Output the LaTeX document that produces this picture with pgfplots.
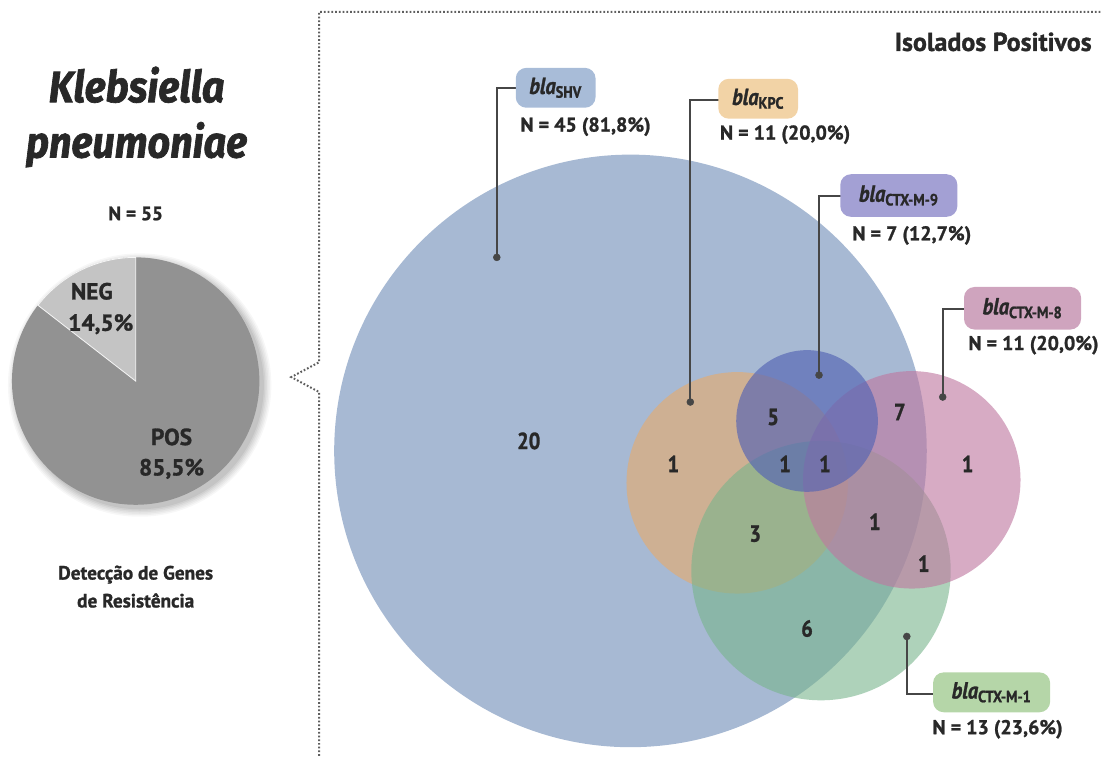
\documentclass[border=0pt]{standalone}
\usepackage{pgfplots}
\pgfplotsset{compat=1.18}
\usepackage{pgfplotstable}
\usepackage{fontspec}
\setmainfont{PT Sans}[BoldFeatures={FakeBold=1.2}]
\newfontfamily\condfont{PT Sans}[FakeStretch=0.88, BoldFeatures={FakeBold=1.2}, BoldItalicFeatures={FakeBold=1.2}]
\newfontfamily\titlefont{Fira Sans}[FakeStretch=0.9, BoldItalicFeatures={FakeBold=1.5}]

\definecolor{cshv}{RGB}{167,185,211}
\definecolor{ckpc}{RGB}{232,170,105}
\definecolor{cnine}{RGB}{85,100,180}
\definecolor{ceight}{RGB}{190,120,160}
\definecolor{cone}{RGB}{120,180,140}
\definecolor{bshv}{RGB}{168,188,216}
\definecolor{bkpc}{RGB}{242,211,166}
\definecolor{bnine}{RGB}{163,160,212}
\definecolor{beight}{RGB}{207,164,190}
\definecolor{bone}{RGB}{181,214,168}
\definecolor{txtc}{RGB}{40,40,40}
\definecolor{lnc}{RGB}{70,70,70}
\definecolor{piepos}{RGB}{146,146,146}
\definecolor{pieneg}{RGB}{196,196,196}
\definecolor{frmc}{RGB}{95,95,95}

% Venn region counts (pixel positions)
\pgfplotstableread{
x   y   lab
530 442 20
675 465 1
775 418 5
902 413 7
970 465 1
787 465 1
827 465 1
757 535 3
877 523 1
926 565 1
809 630 6
}\regions

% circles: centre x, centre y, radius (pixels)
% SHV 632 452 297 ; KPC 739 484 111 ; CTX-M-9 809 422 71 ; CTX-M-8 914 481 109 ; CTX-M-1 823 572 130
% pie: POS 85.5 %, NEG 14.5 %  (N = 55)

\begin{document}
\begin{tikzpicture}
\begin{axis}[x=0.75pt, y=0.75pt, y dir=reverse,
  xmin=0, xmax=1103, ymin=0, ymax=758,
  hide axis, clip=false, scale only axis]

\path (axis cs:0,0) rectangle (axis cs:1103,758);

% ---------- pie ----------
\fill[black, opacity=0.03] (axis cs:140,386) circle[radius={132*0.75pt}];
\fill[black, opacity=0.035] (axis cs:140,386) circle[radius={130.5*0.75pt}];
\fill[black, opacity=0.04] (axis cs:140,386) circle[radius={129*0.75pt}];
\fill[black, opacity=0.045] (axis cs:140,386) circle[radius={127.5*0.75pt}];
\fill[black, opacity=0.05] (axis cs:140,386) circle[radius={126*0.75pt}];
\fill[black, opacity=0.06] (axis cs:140,386) circle[radius={124.5*0.75pt}];
\fill[piepos] (axis cs:136,382) circle[radius=93pt];
\fill[pieneg, draw=white!85!pieneg, line width=0.6pt] (axis cs:136,382) -- (axis cs:136,258) arc[start angle=90, end angle=142.2, radius=93pt] -- cycle;

\node[text=txtc, font=\titlefont\bfseries\itshape\fontsize{33}{36}\selectfont] at (axis cs:137,85) {Klebsiella};
\node[text=txtc, font=\titlefont\bfseries\itshape\fontsize{33}{36}\selectfont] at (axis cs:137,145) {pneumoniae};
\node[text=txtc, font=\bfseries\fontsize{14.5}{16}\selectfont] at (axis cs:136,214) {N = 55};
\node[text=txtc, font=\bfseries\fontsize{17.5}{20}\selectfont] at (axis cs:92,292) {NEG};
\node[text=txtc, font=\bfseries\fontsize{17.5}{20}\selectfont] at (axis cs:101,325) {14,5\%};
\node[text=txtc, font=\bfseries\fontsize{17.5}{20}\selectfont] at (axis cs:172,438) {POS};
\node[text=txtc, font=\bfseries\fontsize{17.5}{20}\selectfont] at (axis cs:172,470) {85,5\%};
\node[text=txtc, font=\bfseries\fontsize{14.5}{16}\selectfont] at (axis cs:136,576) {Detecção de Genes};
\node[text=txtc, font=\bfseries\fontsize{14.5}{16}\selectfont] at (axis cs:136,602) {de Resistência};

% ---------- dotted frame ----------
\draw[frmc, line width=1.5pt, dash pattern=on 1.3pt off 1.5pt]
  (axis cs:1103,12) -- (axis cs:320,12) -- (axis cs:320,363) -- (axis cs:292,378) -- (axis cs:320,393) -- (axis cs:320,758);

% ---------- venn ----------
\fill[cshv] (axis cs:632,452) circle[radius={297*0.75pt}];
\fill[ckpc, fill opacity=0.6] (axis cs:739,484) circle[radius={111*0.75pt}];
\fill[cone, fill opacity=0.6] (axis cs:823,572) circle[radius={130*0.75pt}];
\fill[ceight, fill opacity=0.62] (axis cs:914,481) circle[radius={109*0.75pt}];
\fill[cnine, fill opacity=0.66] (axis cs:809,422) circle[radius={71*0.75pt}];

\addplot[only marks, mark=none, point meta=explicit symbolic,
  nodes near coords, every node near coord/.append style={anchor=center, text=txtc, font=\condfont\bfseries\fontsize{17.5}{19}\selectfont}]
  table[x=x, y=y, meta=lab] {\regions};

% leader lines
\addplot[lnc, line width=1.5pt, mark=none] coordinates {(498,258) (498,88) (518,88)};
\addplot[lnc, line width=1.5pt, mark=none] coordinates {(692,403) (692,100) (721,100)};
\addplot[lnc, line width=1.5pt, mark=none] coordinates {(821,376) (821,196) (844,196)};
\addplot[lnc, line width=1.5pt, mark=none] coordinates {(945,398) (945,310) (968,310)};
\addplot[lnc, line width=1.5pt, mark=none] coordinates {(909,638) (909,696) (935,696)};
\addplot[only marks, mark=*, mark size=2.6pt, lnc] coordinates {(498,258) (692,403) (821,376) (945,398) (909,638)};

% label boxes
\tikzset{gbox/.style={rounded corners=8pt, inner sep=0pt, text=txtc, font=\condfont\bfseries\itshape\fontsize{17.5}{19}\selectfont}}
\node[gbox, fill=bshv, minimum width=60pt, minimum height=30pt] at (axis cs:557,88) {bla\textsubscript{\upshape SHV}};
\node[gbox, fill=bkpc, minimum width=60pt, minimum height=30pt] at (axis cs:760,99) {bla\textsubscript{\upshape KPC}};
\node[gbox, fill=bnine, minimum width=88pt, minimum height=32pt] at (axis cs:901,196) {bla\textsubscript{\upshape CTX-M-9}};
\node[gbox, fill=beight, minimum width=88pt, minimum height=32pt] at (axis cs:1025,309) {bla\textsubscript{\upshape CTX-M-8}};
\node[gbox, fill=bone, minimum width=88pt, minimum height=30pt] at (axis cs:994,694) {bla\textsubscript{\upshape CTX-M-1}};

\tikzset{ntxt/.style={text=txtc, font=\bfseries\fontsize{15}{18}\selectfont}}
\node[ntxt] at (axis cs:587,127) {N = 45 (81,8\%)};
\node[ntxt] at (axis cs:787,135) {N = 11 (20,0\%)};
\node[ntxt] at (axis cs:914,236) {N = 7 (12,7\%)};
\node[ntxt] at (axis cs:1036,346) {N = 11 (20,0\%)};
\node[ntxt] at (axis cs:1000,731) {N = 13 (23,6\%)};

\node[text=txtc, anchor=east, font=\bfseries\fontsize{19.5}{22}\selectfont] at (axis cs:1099,42) {Isolados Positivos};
\end{axis}
\end{tikzpicture}
\end{document}
